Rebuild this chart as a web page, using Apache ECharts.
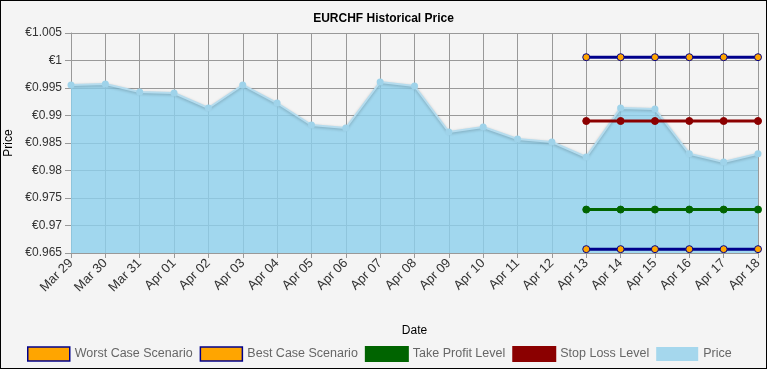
<!DOCTYPE html>
<html><head><meta charset="utf-8">
<script src="https://cdn.jsdelivr.net/npm/echarts@6/dist/echarts.min.js"></script>
<style>html,body{margin:0;padding:0;background:#f4f4f4}#c{width:767px;height:369px;box-sizing:border-box;border:1px solid #000;}</style>
</head><body><div id="c"></div>
<script>
const categories = ['Mar 29','Mar 30','Mar 31','Apr 01','Apr 02','Apr 03','Apr 04','Apr 05','Apr 06','Apr 07','Apr 08','Apr 09','Apr 10','Apr 11','Apr 12','Apr 13','Apr 14','Apr 15','Apr 16','Apr 17','Apr 18'];
const price = [0.99555,0.99573,0.99427,0.99409,0.99136,0.99555,0.99227,0.98827,0.98773,0.99609,0.99536,0.98700,0.98791,0.98573,0.98518,0.98245,0.99136,0.99118,0.98306,0.98155,0.98306];
const worstCase = [null,null,null,null,null,null,null,null,null,null,null,null,null,null,null,1.0006,1.0006,1.0006,1.0006,1.0006,1.0006];
const bestCase = [null,null,null,null,null,null,null,null,null,null,null,null,null,null,null,0.9657,0.9657,0.9657,0.9657,0.9657,0.9657];
const takeProfit = [null,null,null,null,null,null,null,null,null,null,null,null,null,null,null,0.9729,0.9729,0.9729,0.9729,0.9729,0.9729];
const stopLoss = [null,null,null,null,null,null,null,null,null,null,null,null,null,null,null,0.989,0.989,0.989,0.989,0.989,0.989];
const yTicks = {min:0.965, max:1.005, interval:0.005};

const chart = echarts.init(document.getElementById('c'));
const font = 'Liberation Sans, Arial, sans-serif';
function level(name, data, line, marker, border) {
  return {name, type:'line', data, symbol:'circle', symbolSize:7, connectNulls:false,
    lineStyle:{color:line, width:3},
    itemStyle:{color:marker, borderColor:border, borderWidth:1},
    emphasis:{disabled:true}, z:5};
}
chart.setOption({
  backgroundColor:'#f4f4f4',
  animation:false,
  textStyle:{fontFamily:font},
  title:{text:'EURCHF Historical Price', left:'center', top:7, textStyle:{fontSize:12, fontWeight:'bold', color:'#000', fontFamily:font}},
  grid:{left:70, right:8, top:32, bottom:115, containLabel:false, outerBoundsMode:'none'},
  xAxis:{type:'category', data:categories, boundaryGap:false,
    name:'Date', nameLocation:'middle', nameGap:72, nameTextStyle:{color:'#000', fontSize:12},
    axisLine:{lineStyle:{color:'#999'}},
    axisTick:{show:true, alignWithLabel:true, length:5, lineStyle:{color:'#999'}},
    axisLabel:{rotate:45, color:'#333', fontSize:13, margin:8, interval:0},
    splitLine:{show:true, lineStyle:{color:'#999', width:1}}},
  yAxis:{type:'value', min:yTicks.min, max:yTicks.max, interval:yTicks.interval,
    name:'Price', nameLocation:'middle', nameGap:55, nameTextStyle:{color:'#000', fontSize:12},
    axisLine:{show:true, lineStyle:{color:'#999'}},
    axisTick:{show:true, length:6, lineStyle:{color:'#999'}},
    axisLabel:{color:'#333', fontSize:12, margin:9, formatter:v=>'€'+(+v.toFixed(3))},
    splitLine:{show:true, lineStyle:{color:'#999', width:1}}},
  legend:{bottom:6, left:26, padding:0, itemWidth:42, itemHeight:14, itemGap:7, icon:'rect',
    textStyle:{color:'#666', fontSize:12.5},
    data:[
      {name:'Worst Case Scenario', itemStyle:{color:'#ffa500', borderColor:'#00008b', borderWidth:1.5}},
      {name:'Best Case Scenario', itemStyle:{color:'#ffa500', borderColor:'#00008b', borderWidth:1.5}},
      {name:'Take Profit Level', itemStyle:{color:'#006400', borderColor:'#006400'}},
      {name:'Stop Loss Level', itemStyle:{color:'#8b0000', borderColor:'#8b0000'}},
      {name:'Price', itemStyle:{color:'#a5d7ed', borderColor:'#a5d7ed'}}]},
  series:[
    level('Worst Case Scenario', worstCase, '#00008b', '#ffa500', '#00008b'),
    level('Best Case Scenario', bestCase, '#00008b', '#ffa500', '#00008b'),
    level('Take Profit Level', takeProfit, '#006400', '#006400', '#006400'),
    level('Stop Loss Level', stopLoss, '#8b0000', '#8b0000', '#8b0000'),
    {name:'Price', type:'line', data:price, symbol:'circle', symbolSize:7, z:2,
      lineStyle:{color:'#b5dcee', width:2, shadowColor:'rgba(0,0,0,0.25)', shadowBlur:3, shadowOffsetY:1},
      itemStyle:{color:'#9fd3ea'},
      areaStyle:{color:'#8ccfec', opacity:0.8, origin:'start'},
      emphasis:{disabled:true}}
  ]
});
</script></body></html>
